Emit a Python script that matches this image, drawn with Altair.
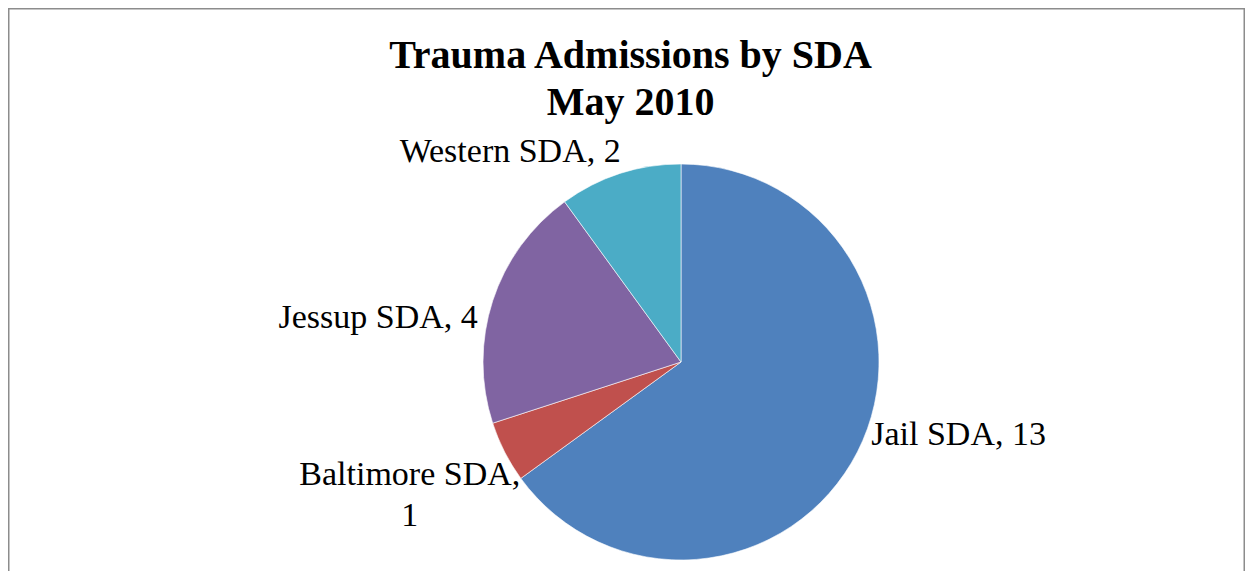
import altair as alt
import pandas as pd

categories = ["Jail SDA", "Baltimore SDA", "Jessup SDA", "Western SDA"]
values = [13, 1, 4, 2]
colors = ["#4F81BD", "#C0504D", "#8064A2", "#4BACC6"]
order = [1, 2, 3, 4]

df = pd.DataFrame({"category": categories, "value": values, "order": order})

W, H = 1237, 580
CX, CY = 673, 354
R = 198
LR = 200
FONT = "Liberation Serif"

base = alt.Chart(df).encode(
    theta=alt.Theta("value:Q", stack=True),
    order=alt.Order("order:Q"),
    x=alt.value(CX),
    y=alt.value(CY),
)

pie = base.mark_arc(outerRadius=R, stroke="white", strokeWidth=0.6).encode(
    color=alt.Color("category:N", scale=alt.Scale(domain=categories, range=colors), legend=None)
)


def label(cat, align, dx, dy, sep=", "):
    expr = "datum.category + '" + sep + "' + datum.value"
    return base.mark_text(
        radius=LR, align=align, dx=dx, dy=dy, font=FONT, fontSize=34,
        color="black", lineBreak="\n", baseline="alphabetic", lineHeight=41,
    ).encode(
        detail="category:N",
        text=alt.condition(alt.datum.category == cat, alt.Text("label:N"), alt.value("")),
    ).transform_calculate(label=expr)


labels = [
    label("Jail SDA", "left", 12, -8),
    label("Baltimore SDA", "center", -93, 32, sep=",\\n"),
    label("Jessup SDA", "right", -13, 28),
    label("Western SDA", "center", -109, -10),
]

chart = alt.layer(pie, *labels).properties(
    width=W,
    height=H,
    autosize=alt.AutoSizeParams(type="fit", contains="padding"),
    padding=0,
    title=alt.TitleParams(
        ["Trauma Admissions by SDA", "May 2010"],
        font=FONT, fontSize=40, fontWeight="bold", color="black",
        anchor="middle", lineHeight=47, offset=-115, dx=4,
    ),
).configure_view(stroke="#8c8c8c", strokeWidth=3)

chart.save("out.html", embed_options={"renderer": "svg", "actions": False})
